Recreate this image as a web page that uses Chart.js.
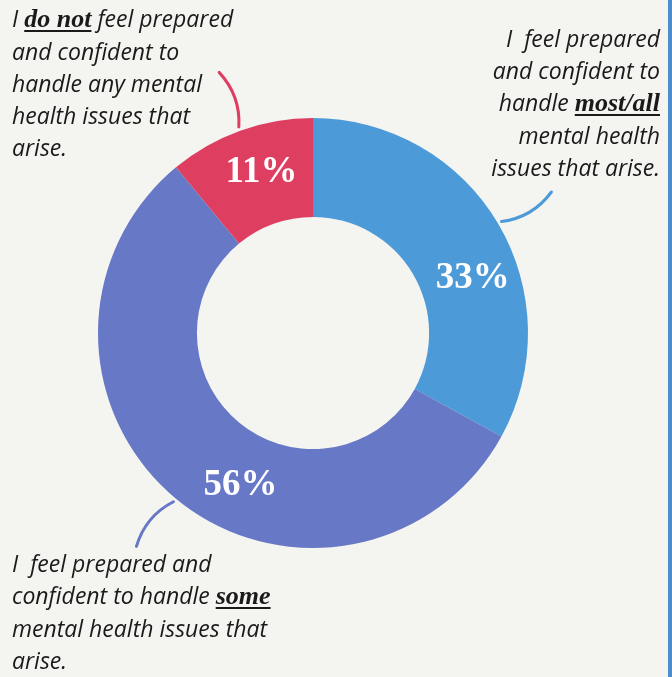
<!DOCTYPE html>
<html>
<head>
<meta charset="utf-8">
<script src="https://cdn.jsdelivr.net/npm/chart.js@4.4.1/dist/chart.umd.min.js"></script>
<style>
  html, body { margin: 0; padding: 0; }
  body {
    width: 672px; height: 677px; position: relative; overflow: hidden;
    background: #f4f4f1;
  }
  #chart { position: absolute; left: 0; top: 0; }
  .edge { position: absolute; right: 0; top: 0; width: 4px; height: 677px; background: #4a8ccc; }
  .note {
    position: absolute; white-space: nowrap;
    font-family: "Open Sans", sans-serif; font-style: italic; font-weight: 400;
    font-size: 23px; line-height: 32px; color: #1a1a1a;
  }
  .note b {
    font-family: "Liberation Serif", serif; font-style: italic; font-weight: 700;
    font-size: 26px; text-decoration: underline; text-underline-offset: 3px;
  }
  #noteNone { left: 12px; top: 2px; }
  #noteMost { right: 12px; top: 22px; text-align: right; }
  #noteSome { left: 12px; top: 547px; }
</style>
</head>
<body>
<canvas id="chart" width="672" height="677"></canvas>
<div class="edge"></div>
<div class="note" id="noteNone">I <b>do not</b> feel prepared<br>and confident to<br>handle any mental<br>health issues that<br>arise.</div>
<div class="note" id="noteMost">I&nbsp; feel prepared<br>and confident to<br>handle <b>most/all</b><br>mental health<br>issues that arise.</div>
<div class="note" id="noteSome">I&nbsp; feel prepared and<br>confident to handle <b>some</b><br>mental health issues that<br>arise.</div>

<script>
  // answers, clockwise from 12 o'clock
  const categories = ['most/all', 'some', 'do not'];
  const percents = [33, 56, 11];
  const sliceColors = ['#4d9ad9', '#6778c6', '#de3f60'];

  // where along each slice the percent label sits (0 = start, 1 = end)
  const labelAlong = [0.6, 0.43, 0.55];

  // percent labels + short leader lines out of each slice
  const sliceLabels = {
    id: 'sliceLabels',
    afterDatasetsDraw(chart) {
      const ctx = chart.ctx;
      const arcs = chart.getDatasetMeta(0).data;
      arcs.forEach((arc, i) => {
        const p = arc.getProps(['x', 'y', 'startAngle', 'endAngle', 'innerRadius', 'outerRadius'], true);

        // leader line from the outer edge at the slice middle
        const mid = (p.startAngle + p.endAngle) / 2;
        const r0 = p.outerRadius + 4, r1 = p.outerRadius + 62;
        const bend = 0.05;
        ctx.save();
        ctx.strokeStyle = sliceColors[i];
        ctx.lineWidth = 3;
        ctx.lineCap = 'round';
        ctx.beginPath();
        ctx.moveTo(p.x + Math.cos(mid) * r0, p.y + Math.sin(mid) * r0);
        ctx.quadraticCurveTo(
          p.x + Math.cos(mid + bend) * (r0 + r1) / 2,
          p.y + Math.sin(mid + bend) * (r0 + r1) / 2,
          p.x + Math.cos(mid) * r1, p.y + Math.sin(mid) * r1);
        ctx.stroke();

        // value text
        const a = p.startAngle + (p.endAngle - p.startAngle) * labelAlong[i];
        const r = (p.innerRadius + p.outerRadius) / 2 + 3;
        ctx.fillStyle = '#ffffff';
        ctx.font = 'bold 37px "Liberation Serif", serif';
        ctx.textAlign = 'center';
        ctx.textBaseline = 'middle';
        ctx.fillText(percents[i] + '%', p.x + Math.cos(a) * r, p.y + Math.sin(a) * r);
        ctx.restore();
      });
    }
  };

  new Chart(document.getElementById('chart'), {
    type: 'doughnut',
    data: {
      labels: categories,
      datasets: [{
        data: percents,
        backgroundColor: sliceColors,
        borderWidth: 0
      }]
    },
    options: {
      responsive: false,
      animation: false,
      cutout: '54%',
      layout: { padding: { left: 98, right: 144, top: 118, bottom: 129 } },
      plugins: {
        legend: { display: false },
        tooltip: { enabled: false }
      }
    },
    plugins: [sliceLabels]
  });
</script>
</body>
</html>
